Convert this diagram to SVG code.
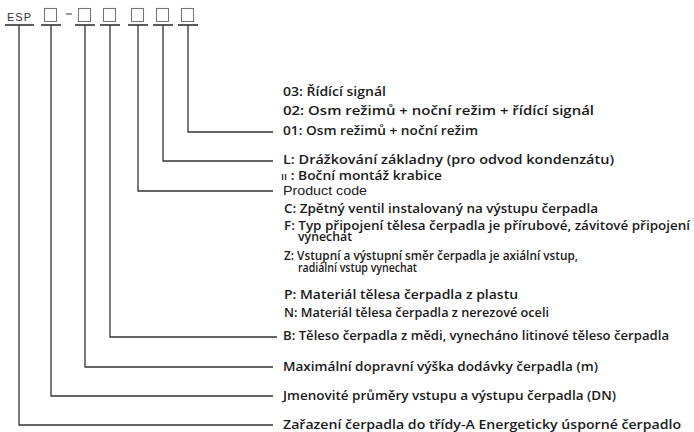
<svg xmlns="http://www.w3.org/2000/svg" width="694" height="432" viewBox="0 0 694 432">
<style>
.ln{fill:none;stroke:#333;stroke-width:1.3}
.ul{fill:none;stroke:#333;stroke-width:1.6}
.sq{fill:#fff;stroke:#777;stroke-width:1.1}
.t{font-family:"Open Sans","Liberation Sans",sans-serif;font-size:12.5px;font-weight:600;fill:#1a1a1a}
.pc{font-family:"Liberation Sans","Arial",sans-serif;font-size:13px;fill:#222}
.h{font-family:"Liberation Sans","Arial",sans-serif;font-size:11px;fill:#333}
</style>
<rect width="694" height="432" fill="#fff"/>
<g id="header">
<text class="h" x="7" y="21" textLength="24">ESP</text>
<line class="ul" x1="5" y1="25" x2="34" y2="25"/>
<rect class="sq" x="44.5" y="8.5" width="12" height="13"/>
<line class="ul" x1="41" y1="25" x2="61" y2="25"/>
<line x1="66" y1="14" x2="72" y2="14" stroke="#555" stroke-width="1.2"/>
<rect class="sq" x="78.5" y="8.5" width="12" height="13"/>
<line class="ul" x1="75" y1="25" x2="95" y2="25"/>
<rect class="sq" x="103.5" y="8.5" width="12" height="13"/>
<line class="ul" x1="100" y1="25" x2="120" y2="25"/>
<rect class="sq" x="131.5" y="8.5" width="12" height="13"/>
<line class="ul" x1="128" y1="25" x2="148" y2="25"/>
<rect class="sq" x="156.5" y="8.5" width="12" height="13"/>
<line class="ul" x1="153" y1="25" x2="173" y2="25"/>
<rect class="sq" x="181.5" y="8.5" width="12" height="13"/>
<line class="ul" x1="178" y1="25" x2="198" y2="25"/>
</g>
<g id="connectors">
<polyline class="ln" points="188,25 188,132 273,132"/>
<polyline class="ln" points="163,25 163,161 273,161"/>
<polyline class="ln" points="138,25 138,191 273,191"/>
<polyline class="ln" points="110,25 110,337 277,337"/>
<polyline class="ln" points="85,25 85,367 273,367"/>
<polyline class="ln" points="51,25 51,396 273,396"/>
<polyline class="ln" points="19,25 19,425 273,425"/>
</g>
<g id="n-signal">
<text class="t" x="283" y="96" textLength="103" lengthAdjust="spacingAndGlyphs">03: Řídící signál</text>
<text class="t" x="283" y="115" textLength="311" lengthAdjust="spacingAndGlyphs">02: Osm režimů + noční režim + řídící signál</text>
<text class="t" x="283" y="135" textLength="195" lengthAdjust="spacingAndGlyphs">01: Osm režimů + noční režim</text>
</g>
<g id="n-mount">
<text class="t" x="283" y="164" textLength="331" lengthAdjust="spacingAndGlyphs">L: Drážkování základny (pro odvod kondenzátu)</text>
<text class="t" x="281" y="180" textLength="161" lengthAdjust="spacingAndGlyphs"><tspan font-size="9">II</tspan> : Boční montáž krabice</text>
</g>
<g id="n-product">
<text class="pc" x="283" y="195" textLength="84" lengthAdjust="spacingAndGlyphs">Product code</text>
<text class="t" x="284" y="213" textLength="314" lengthAdjust="spacingAndGlyphs">C: Zpětný ventil instalovaný na výstupu čerpadla</text>
<text class="t" x="284" y="230" textLength="406" lengthAdjust="spacingAndGlyphs">F: Typ připojení tělesa čerpadla je přírubové, závitové připojení</text>
<text class="t" x="298" y="241" textLength="54" lengthAdjust="spacingAndGlyphs">vynechat</text>
<text class="t" x="284" y="260" textLength="294" lengthAdjust="spacingAndGlyphs">Z: Vstupní a výstupní směr čerpadla je axiální vstup,</text>
<text class="t" x="298" y="272" textLength="119" lengthAdjust="spacingAndGlyphs">radiální vstup vynechat</text>
</g>
<g id="n-material">
<text class="t" x="284" y="299" textLength="234" lengthAdjust="spacingAndGlyphs">P: Materiál tělesa čerpadla z plastu</text>
<text class="t" x="284" y="317" textLength="265" lengthAdjust="spacingAndGlyphs">N: Materiál tělesa čerpadla z nerezové oceli</text>
<text class="t" x="283" y="340" textLength="386" lengthAdjust="spacingAndGlyphs">B: Těleso čerpadla z mědi, vynecháno litinové těleso čerpadla</text>
</g>
<g id="n-head">
<text class="t" x="283" y="371" textLength="315" lengthAdjust="spacingAndGlyphs">Maximální dopravní výška dodávky čerpadla (m)</text>
</g>
<g id="n-dn">
<text class="t" x="283" y="400" textLength="333" lengthAdjust="spacingAndGlyphs">Jmenovité průměry vstupu a výstupu čerpadla (DN)</text>
</g>
<g id="n-class">
<text class="t" x="283" y="429" textLength="398" lengthAdjust="spacingAndGlyphs">Zařazení čerpadla do třídy-A Energeticky úsporné čerpadlo</text>
</g>
</svg>
